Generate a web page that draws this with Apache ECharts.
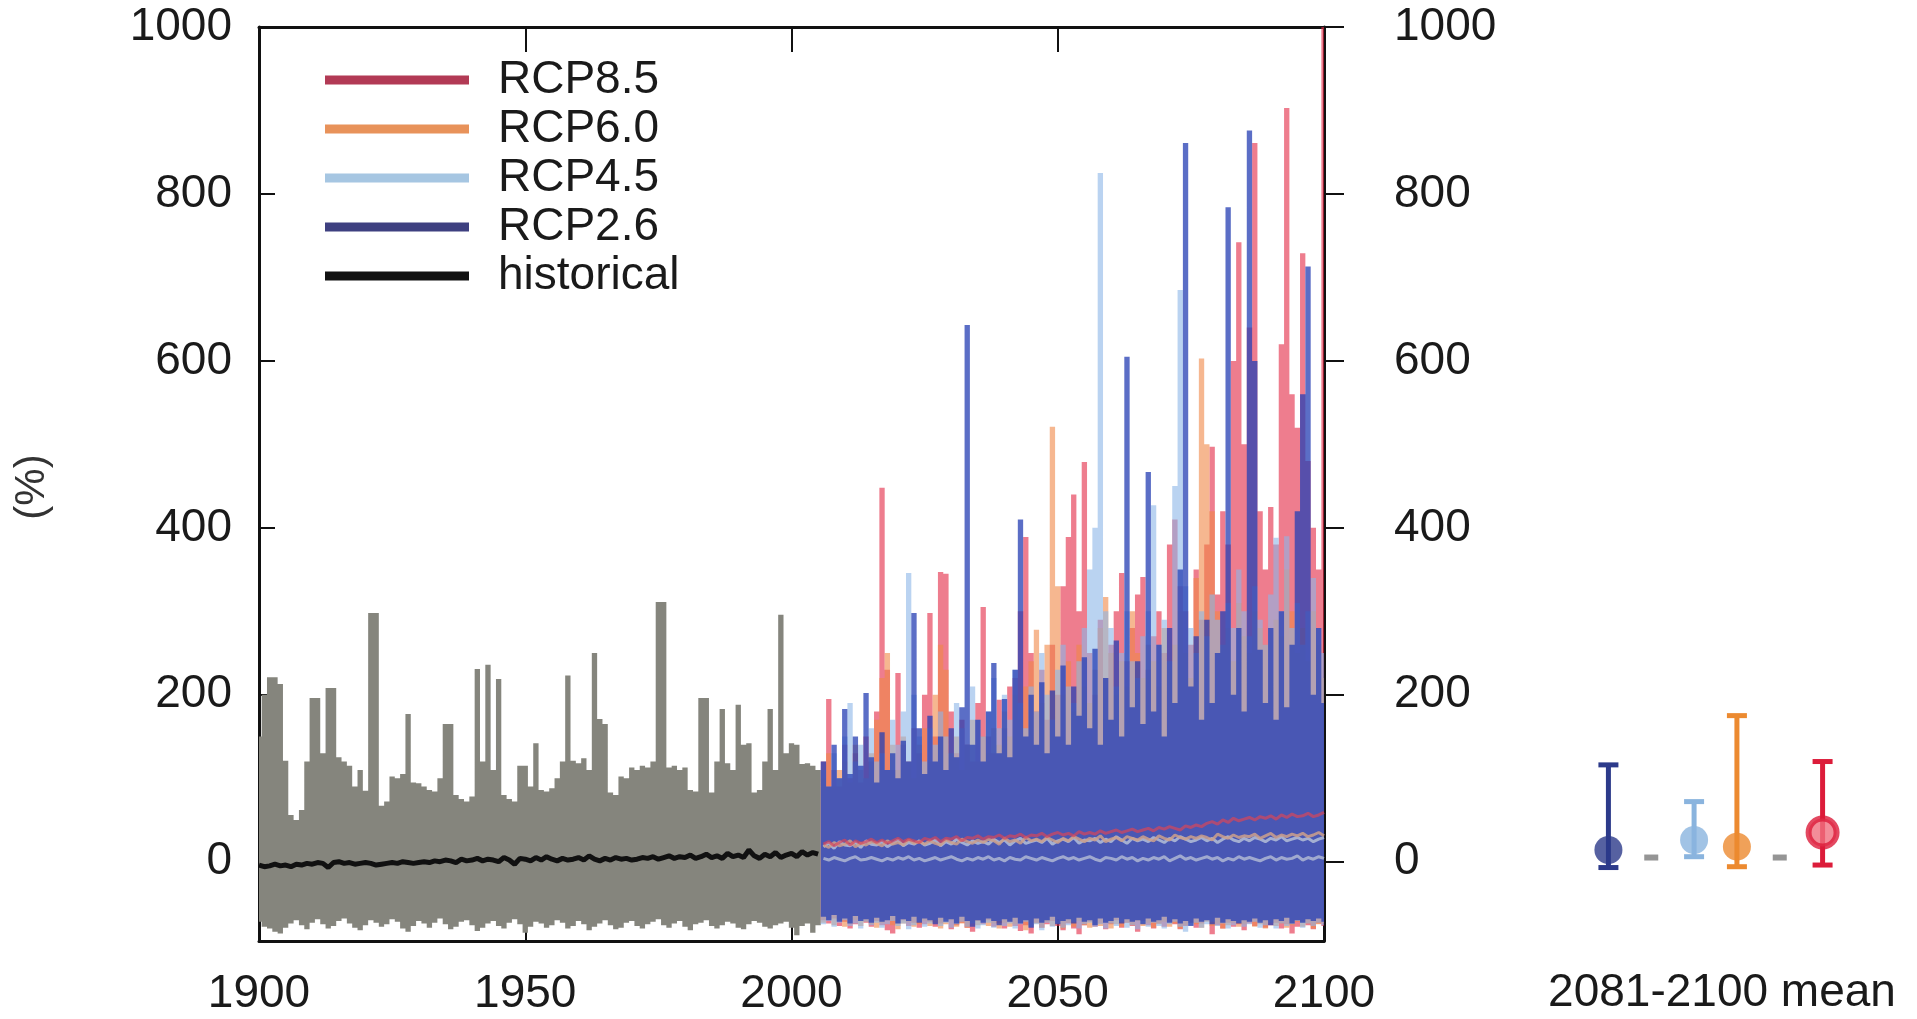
<!DOCTYPE html>
<html>
<head>
<meta charset="UTF-8">
<title>RCP runoff change</title>
<script src="https://cdn.jsdelivr.net/npm/echarts@6/dist/echarts.min.js"></script>
</head>
<body style="margin:0;background:#fff">
<div id="main" style="width:1917px;height:1019px;"></div>
<script type="text/javascript">
// ---- data ----
var histStart = 1900;
var futStart = 2006;

// historical ensemble spread 1900-2005
var histUpper = [
  150,200,221,221,213,121,56,50,62,120,
  196,196,130,208,208,125,120,115,90,110,
  85,298,298,67,72,102,100,105,177,95,
  94,90,86,84,100,165,165,80,75,72,
  78,231,120,236,110,219,80,75,72,115,
  115,90,142,86,84,88,100,120,223,121,
  118,124,110,250,171,165,83,80,102,100,
  113,110,115,113,120,311,311,113,115,110,
  113,86,84,196,196,83,120,183,118,110,
  188,140,142,83,86,120,183,110,296,130,
  142,140,117,118,115,110
];
var histLower = [
  -72,-78,-80,-84,-86,-79,-74,-70,-76,-81,
  -73,-69,-75,-80,-77,-71,-68,-74,-79,-82,
  -76,-70,-73,-78,-75,-69,-72,-80,-84,-77,
  -71,-74,-79,-73,-68,-75,-81,-78,-72,-70,
  -76,-83,-79,-74,-71,-77,-80,-73,-69,-75,
  -85,-78,-72,-74,-79,-76,-70,-73,-80,-77,
  -71,-75,-82,-78,-74,-70,-76,-81,-79,-73,
  -71,-77,-80,-75,-72,-69,-76,-79,-74,-71,
  -78,-82,-75,-73,-70,-77,-80,-76,-72,-74,
  -79,-81,-75,-71,-73,-78,-80,-76,-74,-72,
  -79,-88,-77,-74,-85,-76
];
var histMean = [
  -4,-6,-5,-3,-5,-4,-6,-3,-4,-2,
  -3,-1,-2,-7,-1,0,-2,-1,-3,-2,
  -1,-2,-4,-3,-2,-1,-2,0,-1,-2,
  -1,0,-1,1,0,2,1,-1,3,1,
  2,4,1,3,2,0,5,2,-3,4,
  3,1,5,2,6,3,1,4,2,3,
  5,2,7,3,1,4,2,5,3,4,
  2,3,5,4,6,3,5,7,4,6,
  5,8,4,6,9,5,7,4,10,6,
  8,5,14,7,4,9,6,11,5,8,
  10,6,12,8,11,9
];

// scenario spread 2006-2100
var rcp85Upper = [
  120,195,110,90,140,100,130,95,150,120,
  180,448,230,110,226,140,120,160,130,200,
  298,150,347,345,180,130,170,140,120,190,
  305,150,130,194,160,210,220,300,389,250,
  180,230,170,260,200,330,389,440,300,479,
  250,200,290,220,260,300,346,240,280,320,
  341,230,270,300,250,380,410,330,300,260,
  350,290,380,497,320,420,380,600,742,500,
  640,861,420,350,425,380,620,903,560,520,
  729,480,400,350,1000
];
var rcp85Lower = [
  -70,-74,-68,-77,-72,-80,-75,-69,-73,-78,
  -71,-76,-82,-86,-74,-70,-77,-73,-79,-75,
  -72,-78,-74,-69,-81,-76,-73,-79,-84,-71,
  -75,-70,-78,-74,-80,-72,-77,-83,-76,-86,
  -73,-79,-75,-71,-77,-82,-74,-80,-87,-76,
  -72,-78,-74,-81,-75,-70,-79,-73,-77,-84,
  -71,-76,-80,-74,-78,-72,-75,-81,-77,-73,
  -79,-74,-70,-87,-76,-80,-73,-78,-75,-82,
  -74,-77,-71,-79,-76,-73,-80,-75,-86,-78,
  -72,-76,-81,-74,-77
];
var rcp85Mean = [
  21,24,19,23,26,20,25,22,24,27,
  23,26,22,25,28,24,27,25,23,28,
  26,29,24,28,27,30,25,29,28,31,
  27,30,29,32,28,31,30,33,29,32,
  31,34,30,33,35,32,34,31,36,33,
  35,33,37,34,36,38,35,37,39,36,
  38,40,37,41,39,42,40,38,43,41,
  44,42,46,48,45,50,47,52,49,51,
  53,50,54,52,55,51,56,53,57,54,
  55,58,54,56,59
];

var rcp60Upper = [
  100,130,90,110,120,95,140,110,100,130,
  170,220,250,140,110,150,120,100,140,160,
  120,200,260,230,130,150,110,140,170,120,
  150,130,160,140,180,150,200,170,210,240,
  278,190,260,521,330,200,240,180,260,210,
  190,230,280,317,250,200,240,210,300,250,
  220,260,240,210,280,230,260,300,250,220,
  340,603,500,420,300,260,280,240,310,270,
  250,300,280,260,230,290,270,350,300,250,
  280,240,300,260,220
];
var rcp60Lower = [
  -73,-69,-76,-71,-78,-74,-70,-77,-72,-75,
  -79,-73,-70,-76,-81,-74,-72,-78,-75,-71,
  -77,-73,-80,-75,-70,-78,-74,-79,-72,-76,
  -71,-77,-74,-80,-73,-78,-75,-70,-82,-76,
  -74,-79,-72,-77,-75,-80,-73,-78,-71,-76,
  -79,-74,-77,-72,-80,-75,-78,-73,-76,-71,
  -77,-73,-79,-75,-72,-78,-74,-80,-76,-73,
  -75,-79,-72,-77,-74,-80,-76,-73,-78,-75,
  -72,-78,-75,-80,-73,-77,-74,-79,-76,-72,
  -78,-74,-80,-75,-73
];
var rcp60Mean = [
  20,17,23,19,21,25,18,22,20,24,
  22,19,25,21,23,20,26,22,24,21,
  25,22,20,26,23,21,27,24,22,26,
  23,27,25,21,28,24,26,22,29,25,
  27,24,29,26,23,28,25,30,27,24,
  28,26,31,24,27,29,25,30,28,26,
  30,27,25,31,28,26,32,29,27,30,
  28,31,29,26,33,30,28,32,29,31,
  30,33,28,31,34,29,32,30,33,31,
  34,30,32,35,31
];

var rcp45Upper = [
  110,90,130,100,150,190,120,140,100,160,
  120,130,110,170,140,180,346,200,150,120,
  160,140,180,150,130,190,160,140,210,170,
  150,180,220,160,200,170,230,190,160,210,
  180,250,200,170,230,260,210,190,240,280,
  350,400,825,300,280,210,250,300,240,220,
  270,300,427,260,290,240,450,685,330,280,
  250,300,270,320,290,260,310,280,350,300,
  270,330,290,260,320,388,300,390,280,310,
  260,300,340,280,250
];
var rcp45Lower = [
  -75,-71,-78,-73,-70,-77,-74,-80,-72,-76,
  -73,-79,-75,-71,-77,-74,-81,-76,-72,-78,
  -74,-70,-77,-73,-79,-75,-72,-78,-74,-80,
  -76,-73,-79,-71,-77,-74,-80,-75,-72,-78,
  -75,-82,-73,-78,-74,-79,-76,-72,-80,-75,
  -73,-78,-75,-80,-74,-77,-72,-79,-76,-81,
  -74,-78,-73,-77,-80,-75,-72,-78,-84,-76,
  -73,-79,-75,-72,-77,-74,-80,-76,-73,-78,
  -75,-72,-79,-76,-73,-80,-74,-77,-75,-71,
  -79,-74,-77,-73,-76
];
var rcp45Mean = [
  18,22,16,24,20,19,23,17,25,21,
  20,24,18,22,26,19,23,21,25,20,
  22,26,19,24,21,27,23,20,25,22,
  24,21,27,23,26,20,25,28,22,24,
  26,23,28,21,25,27,24,29,22,26,
  25,28,23,27,24,30,26,22,28,25,
  27,24,29,26,23,28,25,30,27,24,
  26,29,25,28,23,27,30,26,24,28,
  25,29,27,24,28,26,30,25,27,29,
  26,28,24,27,29
];

var rcp26Upper = [
  120,90,140,100,183,105,150,115,202,125,
  95,155,110,130,100,145,120,298,160,105,
  175,120,150,110,160,125,185,643,140,170,
  120,180,238,130,195,125,230,410,150,200,
  140,215,130,205,150,235,140,210,175,245,
  160,255,140,220,170,265,150,605,185,240,
  165,467,180,260,150,280,190,350,861,210,
  270,170,290,190,250,300,784,200,280,180,
  876,600,254,190,280,170,300,185,260,420,
  560,713,200,280,190
];
var rcp26Lower = [
  -66,-70,-64,-72,-68,-74,-65,-71,-69,-73,
  -67,-72,-70,-65,-74,-69,-71,-66,-73,-68,
  -70,-75,-67,-72,-69,-74,-66,-71,-78,-70,
  -73,-68,-71,-76,-69,-72,-67,-74,-70,-79,
  -68,-73,-70,-66,-75,-71,-69,-74,-67,-72,
  -70,-76,-68,-73,-71,-67,-74,-69,-72,-70,
  -75,-68,-72,-70,-66,-73,-69,-74,-71,-77,
  -68,-72,-70,-75,-67,-73,-69,-71,-74,-70,
  -72,-68,-73,-70,-76,-69,-71,-67,-74,-70,
  -73,-69,-71,-68,-72
];
var rcp26Mean = [
  4,2,5,3,1,4,6,2,3,5,
  3,1,4,2,5,3,6,2,4,1,
  3,5,2,4,6,3,1,4,2,5,
  3,6,2,4,1,5,3,2,6,4,
  2,5,3,1,4,6,3,5,2,4,
  6,3,1,5,4,2,6,3,5,1,
  4,2,5,3,6,1,4,7,3,5,
  2,4,6,3,5,1,4,2,6,3,
  5,3,1,4,6,2,5,3,4,7,
  2,5,3,6,4
];

// 2081-2100 mean panel
var meanCats = ['RCP2.6', 'ref1', 'RCP4.5', 'RCP6.0', 'ref2', 'RCP8.5'];
var scenNames = ['RCP2.6', 'RCP4.5', 'RCP6.0', 'RCP8.5'];
var scenMean = [14, 26, 18, 35];
var scenLow = [-7, 6, -6, -4];
var scenHigh = [116, 72, 175, 120];
var refNames = ['ref1', 'ref2'];
var refVals = [5, 5];

var yTicks = [0, 200, 400, 600, 800, 1000];

// ---- build ----
var histYears = [], futYears = [];
for (var i = 0; i < histUpper.length; i++) histYears.push(histStart + i);
for (var j = 0; j < rcp85Upper.length; j++) futYears.push(futStart + j);

var FONT = 'Liberation Sans, Arial, sans-serif';
var YMIN = -95, YMAX = 1000;

function pairs(years, vals) {
  return years.map(function (y, i) { return [y, vals[i]]; });
}

// one filled polygon per spread, each year covering [y-0.5, y+0.5]
function bandSeries(name, years, lo, hi, fill) {
  return {
    name: name, type: 'custom', xAxisIndex: 0, yAxisIndex: 0, silent: true, clip: true,
    data: years.map(function (y, i) { return [y, lo[i], hi[i]]; }),
    encode: { x: 0, y: [1, 2] },
    renderItem: function (params, api) {
      if (params.dataIndexInside !== 0) return null;
      var n = params.dataInsideLength;
      var top = [], bot = [];
      for (var k = 0; k < n; k++) {
        var yr = api.value(0, k);
        var x0 = Math.max(yr - 0.5, 1900), x1 = Math.min(yr + 0.5, 2100);
        var h = Math.min(api.value(2, k), YMAX), l = Math.max(api.value(1, k), YMIN);
        top.push(api.coord([x0, h]), api.coord([x1, h]));
        bot.push(api.coord([x0, l]), api.coord([x1, l]));
      }
      return {
        type: 'polygon',
        shape: { points: top.concat(bot.reverse()) },
        style: { fill: fill, stroke: null }
      };
    }
  };
}

function meanLine(name, years, vals, color, width) {
  return {
    name: name, type: 'line', xAxisIndex: 0, yAxisIndex: 0, silent: true,
    data: pairs(years, vals), symbol: 'none',
    lineStyle: { color: color, width: width }, z: 5
  };
}

var scenColors = ['#2c3a8a', '#8ab4de', '#ec8a30', '#dc1c3a'];

var myChart = echarts.init(document.getElementById('main'));

var axisLabelStyle = {
  fontFamily: FONT, fontSize: 46, color: '#1a1a1a',
  formatter: function (v) { return String(v); }
};
var frameLine = { onZero: false, lineStyle: { color: '#111', width: 3 } };

var option = {
  animation: false,
  backgroundColor: '#ffffff',
  grid: [
    { left: 259, top: 27, width: 1065, height: 914 },
    { left: 1587, top: 27, width: 257, height: 914 }
  ],
  legend: {
    orient: 'vertical', left: 320, top: 52,
    icon: 'rect', itemWidth: 144, itemHeight: 9, itemGap: 3,
    selectedMode: false,
    textStyle: { fontFamily: FONT, fontSize: 46, color: '#1a1a1a', padding: [0, 0, 0, 24] },
    data: [
      { name: 'RCP8.5', itemStyle: { color: '#b23a55' } },
      { name: 'RCP6.0', itemStyle: { color: '#e8925a' } },
      { name: 'RCP4.5', itemStyle: { color: '#a6c6e2' } },
      { name: 'RCP2.6', itemStyle: { color: '#3e4080' } },
      { name: 'historical', itemStyle: { color: '#111111' } }
    ]
  },
  xAxis: [
    {
      type: 'value', gridIndex: 0, position: 'bottom', min: 1900, max: 2100, interval: 50,
      axisLine: frameLine,
      axisTick: { inside: true, length: 22, lineStyle: { color: '#111', width: 2 } },
      axisLabel: Object.assign({ margin: 30 }, axisLabelStyle),
      splitLine: { show: false }
    },
    {
      type: 'value', gridIndex: 0, position: 'top', min: 1900, max: 2100, interval: 50,
      axisLine: frameLine,
      axisTick: { inside: true, length: 25, lineStyle: { color: '#111', width: 2 } },
      axisLabel: { show: false },
      splitLine: { show: false }
    },
    {
      type: 'category', gridIndex: 1, data: meanCats, show: false
    }
  ],
  yAxis: [
    {
      type: 'value', gridIndex: 0, position: 'left', min: YMIN, max: YMAX,
      axisLine: { show: true, onZero: false, lineStyle: { color: '#111', width: 3 } },
      axisTick: { show: true, inside: true, length: 16, customValues: yTicks, lineStyle: { color: '#111', width: 2 } },
      axisLabel: Object.assign({ margin: 27, customValues: yTicks }, axisLabelStyle),
      splitLine: { show: false }
    },
    {
      type: 'value', gridIndex: 0, position: 'right', min: YMIN, max: YMAX,
      axisLine: { show: true, onZero: false, lineStyle: { color: '#111', width: 3 } },
      axisTick: { show: true, inside: false, length: 20, customValues: yTicks, lineStyle: { color: '#111', width: 2 } },
      axisLabel: Object.assign({ margin: 70, customValues: yTicks }, axisLabelStyle),
      splitLine: { show: false }
    },
    {
      type: 'value', gridIndex: 1, min: YMIN, max: YMAX, show: false
    }
  ],
  graphic: [
    {
      type: 'text', x: 32, y: 487, rotation: Math.PI / 2,
      style: { text: '(%)', x: 0, y: 0, align: 'center', verticalAlign: 'middle',
               fontFamily: FONT, fontSize: 42, fill: '#333' }
    },
    {
      type: 'text', x: 1722, y: 993,
      style: { text: '2081-2100 mean', x: 0, y: 0, align: 'center', verticalAlign: 'middle',
               fontFamily: FONT, fontSize: 46, fill: '#1a1a1a' }
    }
  ],
  series: [
    bandSeries('historical spread', histYears, histLower, histUpper, '#85857d'),
    bandSeries('RCP8.5', futYears, rcp85Lower, rcp85Upper, 'rgba(228,45,72,0.62)'),
    bandSeries('RCP6.0', futYears, rcp60Lower, rcp60Upper, 'rgba(240,135,70,0.6)'),
    bandSeries('RCP4.5', futYears, rcp45Lower, rcp45Upper, 'rgba(140,182,232,0.6)'),
    bandSeries('RCP2.6', futYears, rcp26Lower, rcp26Upper, 'rgba(40,64,180,0.76)'),
    meanLine('RCP2.6', futYears, rcp26Mean, 'rgba(170,178,210,0.9)', 3),
    meanLine('RCP4.5', futYears, rcp45Mean, 'rgba(180,190,215,0.85)', 3),
    meanLine('RCP6.0', futYears, rcp60Mean, 'rgba(205,160,140,0.85)', 3),
    meanLine('RCP8.5', futYears, rcp85Mean, 'rgba(215,70,90,0.7)', 3),
    meanLine('historical', histYears, histMean, '#111111', 5),
    {
      name: 'bars', type: 'custom', xAxisIndex: 2, yAxisIndex: 2, silent: true,
      data: scenNames.map(function (c, i) { return [c, scenLow[i], scenHigh[i]]; }),
      encode: { x: 0, y: [1, 2] },
      renderItem: function (params, api) {
        var lo = api.coord([api.value(0), api.value(1)]);
        var hi = api.coord([api.value(0), api.value(2)]);
        var col = scenColors[params.dataIndex];
        var st = { stroke: col, lineWidth: 5 };
        return { type: 'group', children: [
          { type: 'line', shape: { x1: lo[0], y1: lo[1], x2: hi[0], y2: hi[1] }, style: st },
          { type: 'line', shape: { x1: hi[0] - 10, y1: hi[1], x2: hi[0] + 10, y2: hi[1] }, style: st },
          { type: 'line', shape: { x1: lo[0] - 10, y1: lo[1], x2: lo[0] + 10, y2: lo[1] }, style: st }
        ] };
      }
    },
    {
      name: 'means', type: 'scatter', xAxisIndex: 2, yAxisIndex: 2, silent: true,
      symbol: 'circle', symbolSize: 28, z: 4,
      data: scenNames.map(function (c, i) {
        return {
          value: [c, scenMean[i]],
          itemStyle: i === 3
            ? { color: '#f07080', borderColor: scenColors[i], borderWidth: 6 }
            : { color: scenColors[i] }
        };
      })
    },
    {
      name: 'ref', type: 'scatter', xAxisIndex: 2, yAxisIndex: 2, silent: true,
      symbol: 'rect', symbolSize: [14, 6],
      itemStyle: { color: '#7a7a7a' },
      data: refNames.map(function (c, i) { return [c, refVals[i]]; })
    }
  ]
};

myChart.setOption(option);
</script>
</body>
</html>
